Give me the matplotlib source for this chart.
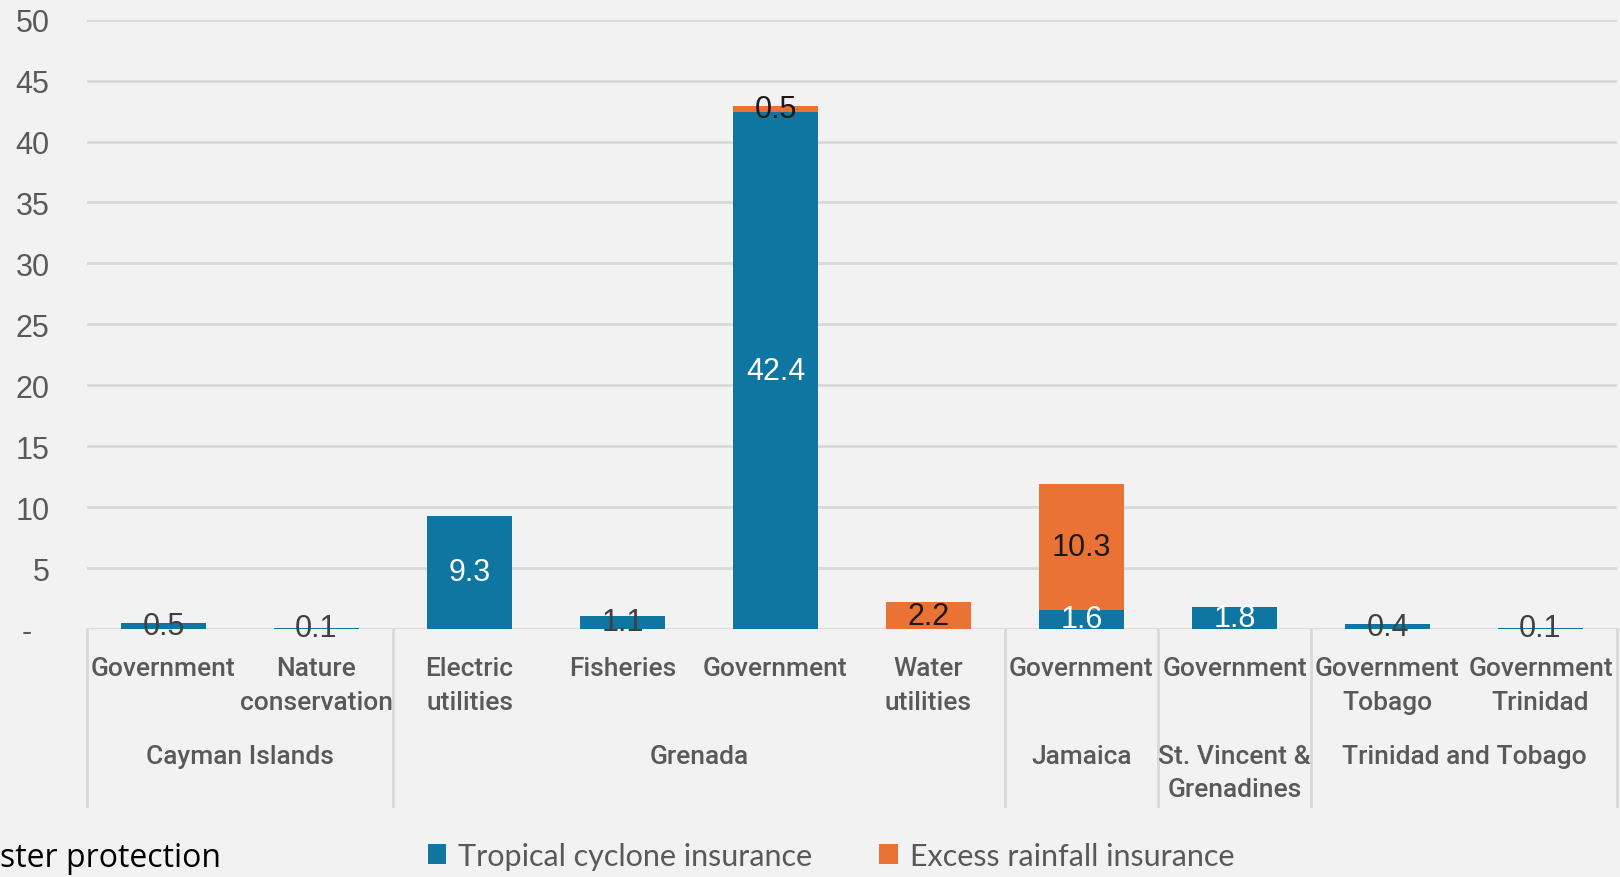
import matplotlib.pyplot as plt
import matplotlib.transforms as mtransforms
import numpy as np

# data
categories = ['Government', 'Nature\nconservation', 'Electric\nutilities', 'Fisheries', 'Government',
              'Water\nutilities', 'Government', 'Government', 'Government\nTobago', 'Government\nTrinidad']
groups = ['Cayman Islands', 'Grenada', 'Jamaica', 'St. Vincent &\nGrenadines', 'Trinidad and Tobago']
group_sizes = [2, 4, 1, 1, 2]
tropical = [0.5, 0.1, 9.3, 1.1, 42.4, 0.0, 1.6, 1.8, 0.4, 0.1]
rainfall = [0.0, 0.0, 0.0, 0.0, 0.5, 2.2, 10.3, 0.0, 0.0, 0.0]
yticks = [0, 5, 10, 15, 20, 25, 30, 35, 40, 45, 50]
ytick_labels = ['-  ', '5', '10', '15', '20', '25', '30', '35', '40', '45', '50']

blue = '#0E76A0'
orange = '#EA7234'
bg = '#F2F2F2'
grid_c = '#D9D9D9'
txt_c = '#595959'

fig = plt.figure(figsize=(16.2, 8.78), dpi=100, facecolor=bg)
ax = fig.add_axes([87 / 1620, 1 - 630 / 878, 1530 / 1620, (630 - 20.7) / 878])
ax.set_facecolor(bg)

x = np.arange(len(categories))
w = 0.56
b1 = ax.bar(x, tropical, w, color=blue, label='Tropical cyclone insurance', zorder=3)
b2 = ax.bar(x, rainfall, w, bottom=tropical, color=orange, label='Excess rainfall insurance', zorder=3)

# data labels at segment centres
for i in range(len(x)):
    t = tropical[i]
    r = rainfall[i]
    if t > 0:
        c = 'white' if t >= 1.5 else '#404040'
        ax.text(x[i], t / 2, f'{t:.1f}', ha='center', va='center', color=c,
                fontsize=22, family='Liberation Sans', zorder=4)
    if r > 0:
        ax.text(x[i], t + r / 2, f'{r:.1f}', ha='center', va='center', color='#1a1a1a',
                fontsize=22, family='Liberation Sans', zorder=4)

ax.set_xlim(-0.5, len(x) - 0.5)
ax.set_ylim(0, 50)
ax.set_yticks(yticks)
ax.set_yticklabels(ytick_labels, fontsize=22, color=txt_c, family='Liberation Sans')
ax.tick_params(axis='y', length=0, pad=27)
ax.set_xticks([])
ax.yaxis.grid(True, color=grid_c, lw=2, zorder=0)
for s in ax.spines.values():
    s.set_visible(False)

trans = mtransforms.blended_transform_factory(ax.transData, ax.transAxes)

# category labels
for i, c in enumerate(categories):
    ax.text(x[i], -0.044, c, transform=trans, ha='center', va='top', fontsize=19,
            color=txt_c, family='Roboto', weight='medium', linespacing=1.52, clip_on=False)

# group labels and separators
edges = np.concatenate([[0], np.cumsum(group_sizes)]) - 0.5
for e in edges:
    ax.plot([e, e], [0, -0.29], transform=trans, color=grid_c, lw=2, clip_on=False)
for g, a, b in zip(groups, edges[:-1], edges[1:]):
    ax.text((a + b) / 2, -0.188, g, transform=trans, ha='center', va='top', fontsize=19,
            color=txt_c, family='Roboto', weight='medium', linespacing=1.52, clip_on=False)

leg = fig.legend(handles=[b1, b2], loc='center', bbox_to_anchor=(0.513, 0.024), ncol=2,
                 frameon=False, handlelength=0.6, handleheight=0.6,
                 handletextpad=0.4, columnspacing=2.2, prop={'family': 'Lato', 'size': 22})
for t in leg.get_texts():
    t.set_color(txt_c)

fig.text(0.0, 0.012, 'ster protection', ha='left', va='baseline', fontsize=23,
         family='Open Sans', color='black')

fig.savefig('out.png', dpi=100, facecolor=bg)
